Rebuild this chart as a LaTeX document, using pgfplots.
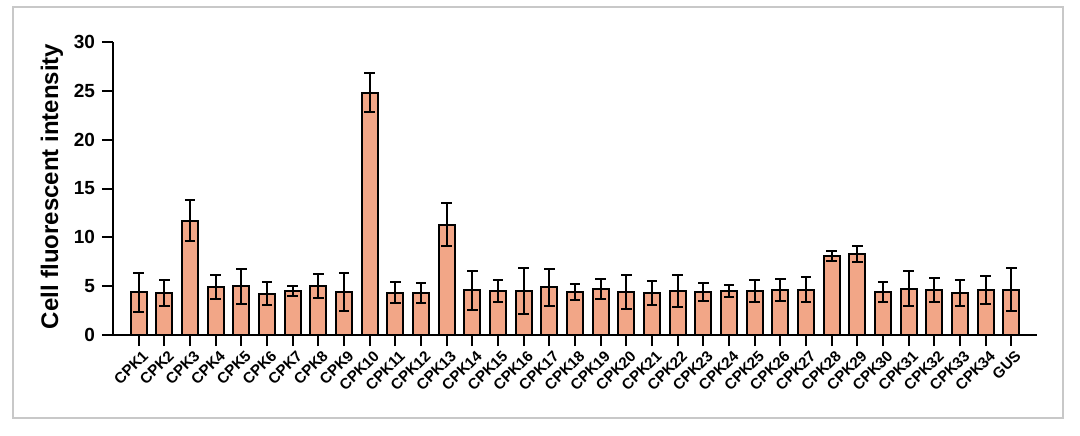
\documentclass[border=0pt]{standalone}
\usepackage{pgfplots}
\pgfplotsset{compat=1.18}
\usepackage{pgfplotstable}
\usepackage{fontspec}
\setmainfont{Liberation Sans}
\definecolor{barfill}{RGB}{242,166,135}
\definecolor{framegray}{RGB}{200,200,200}
\pgfplotstableread{
x y err
0 4.4 2.0
1 4.3 1.3
2 11.7 2.1
3 4.9 1.2
4 5.0 1.8
5 4.25 1.15
6 4.5 0.55
7 5.0 1.25
8 4.4 1.9
9 24.8 2.0
10 4.35 1.1
11 4.3 1.0
12 11.3 2.2
13 4.6 2.0
14 4.5 1.1
15 4.5 2.35
16 4.9 1.9
17 4.4 0.85
18 4.7 1.05
19 4.4 1.75
20 4.3 1.25
21 4.5 1.6
22 4.4 0.95
23 4.5 0.65
24 4.5 1.15
25 4.6 1.1
26 4.65 1.25
27 8.1 0.55
28 8.3 0.85
29 4.4 1.0
30 4.75 1.8
31 4.6 1.2
32 4.3 1.3
33 4.6 1.4
34 4.65 2.2
}\datatable
\begin{document}
\begin{tikzpicture}
\useasboundingbox (-56.5pt,-50pt) rectangle (483.5pt,167.5pt);
\draw[framegray, line width=0.8pt] (-50pt,-41.5pt) rectangle (475pt,164pt);
\begin{axis}[
  at={(0,0)}, anchor=south west,
  scale only axis, width=462pt, height=146.5pt,
  xmin=-1, xmax=35, ymin=0, ymax=30,
  axis x line*=bottom, axis y line*=left,
  axis line style={line width=1pt, -},
  ytick={0,5,...,30},
  xtick={0,...,34},
  xticklabels={CPK1,CPK2,CPK3,CPK4,CPK5,CPK6,CPK7,CPK8,CPK9,CPK10,CPK11,CPK12,CPK13,CPK14,CPK15,CPK16,CPK17,CPK18,CPK19,CPK20,CPK21,CPK22,CPK23,CPK24,CPK25,CPK26,CPK27,CPK28,CPK29,CPK30,CPK31,CPK32,CPK33,CPK34,GUS},
  tick align=outside, major tick length=5.5pt,
  tick style={line width=1pt, black},
  /pgf/number format/assume math mode=true,
  yticklabel style={font=\fontsize{9.5}{10}\selectfont\bfseries},
  xticklabel style={font=\fontsize{7.6}{8}\selectfont\bfseries, rotate=45, anchor=east, xshift=1pt, yshift=-5pt, inner sep=1pt},
  ylabel={Cell fluorescent intensity},
  ylabel style={font=\fontsize{12}{13}\selectfont\bfseries, at={(axis description cs:-0.066,0.507)}, anchor=center},
  ybar, bar width=7.85pt,
  clip=false,
]
\addplot[fill=barfill, draw=black, line width=1pt,
  error bars/.cd, y dir=both, y explicit,
  error bar style={line width=1pt, black},
  error mark options={line width=1pt, black, mark size=2.6pt, rotate=90}]
  table[x=x, y=y, y error=err] {\datatable};
\end{axis}
\end{tikzpicture}
\end{document}
